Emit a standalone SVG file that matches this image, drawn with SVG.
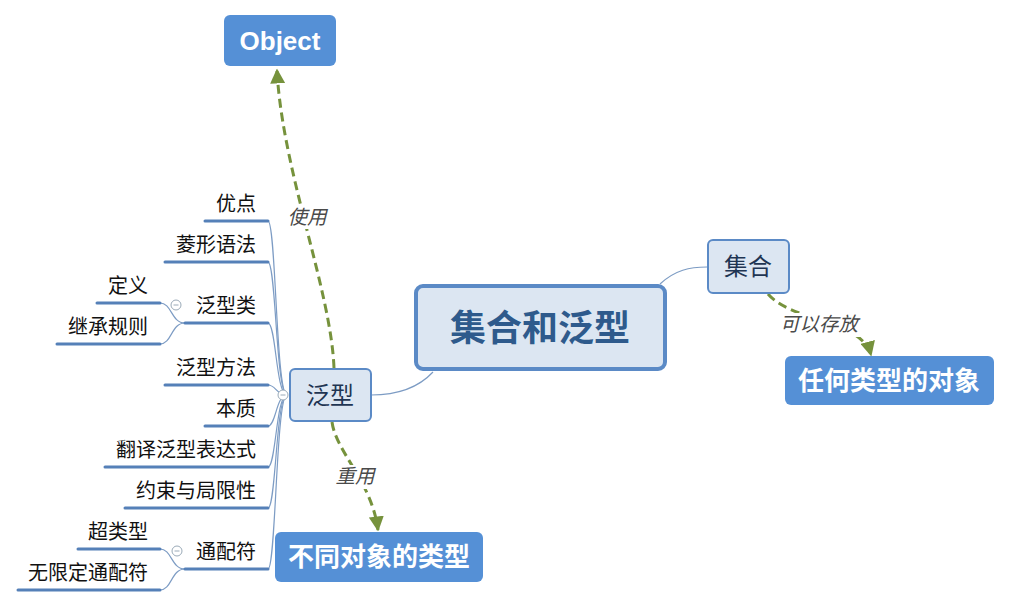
<svg xmlns="http://www.w3.org/2000/svg" width="1010" height="607" viewBox="0 0 1010 607">
<defs>
<style>
.leaf{font-family:"Noto Sans CJK SC","Liberation Sans",sans-serif;font-size:20px;fill:#111;text-anchor:end}
.ul{stroke:#5580b8;stroke-width:3;fill:none;stroke-linecap:round}
.br{stroke:#7d9cc4;stroke-width:1.2;fill:none}
.dash{stroke:#76923c;stroke-width:3;fill:none;stroke-dasharray:9,5}
.lbl{font-family:"Noto Sans CJK SC","Liberation Sans",sans-serif;font-size:19.5px;font-style:italic;fill:#4a4a4a;text-anchor:middle}
.sub{fill:#dce6f2;stroke:#5b8ac6;stroke-width:2}
.subt{font-family:"Noto Sans CJK SC","Liberation Sans",sans-serif;font-size:24px;fill:#1f3553;text-anchor:middle}
.flt{fill:#5590d6}
.fltt{font-family:"Noto Sans CJK SC","Liberation Sans",sans-serif;font-size:26px;font-weight:bold;fill:#fff;text-anchor:middle}
.col{fill:#fff;stroke:#9aaab8;stroke-width:1}
</style>
<marker id="arr" viewBox="0 0 10 10" refX="9" refY="5" markerWidth="5" markerHeight="5" orient="auto" markerUnits="strokeWidth">
<path d="M0,0 L10,5 L0,10 z" fill="#76923c"/>
</marker>
</defs>
<rect width="1010" height="607" fill="#fff"/>

<g id="connectors">
<path class="br" d="M371,395 C400,395 420,386 433,372"/>
<path class="br" d="M660,284 C675,270 690,267 707,267"/>
<path class="br" d="M287,395 C276,395 276,221 268,221"/>
<path class="br" d="M287,395 C276,395 276,262 268,262"/>
<path class="br" d="M287,395 C276,395 276,323 268,323"/>
<path class="br" d="M287,395 C276,395 276,385 268,385"/>
<path class="br" d="M287,395 C276,395 276,426 268,426"/>
<path class="br" d="M287,395 C276,395 276,467 268,467"/>
<path class="br" d="M287,395 C276,395 276,508 268,508"/>
<path class="br" d="M287,395 C276,395 276,569 268,569"/>
<path class="br" d="M185,323 C171,323 172,303 160,303"/>
<path class="br" d="M185,323 C171,323 172,344 160,344"/>
<path class="br" d="M185,569 C171,569 172,549 160,549"/>
<path class="br" d="M185,569 C171,569 172,590 160,590"/>
<path class="dash" d="M334,368 C331,290 282,170 277,70" marker-end="url(#arr)"/>
<path class="dash" d="M332,422 C336,452 372,482 378,530" marker-end="url(#arr)"/>
<path class="dash" d="M768,294 C792,322 862,320 871,355" marker-end="url(#arr)"/>
<rect x="285" y="205" width="44" height="24" fill="#fff"/>
<text class="lbl" x="307" y="224">使用</text>
<rect x="333" y="465" width="44" height="24" fill="#fff"/>
<text class="lbl" x="355" y="483">重用</text>
<rect x="777" y="313" width="84" height="24" fill="#fff"/>
<text class="lbl" x="819" y="331">可以存放</text>
</g>

<g id="central">
<rect x="416" y="286" width="249" height="83" rx="7" fill="#dce6f2" stroke="#5b8ac6" stroke-width="4"/>
<text x="540" y="341" font-family="'Noto Sans CJK SC','Liberation Sans',sans-serif" font-size="36" font-weight="bold" fill="#2e5a8c" text-anchor="middle">集合和泛型</text>
</g>

<g id="fanxing">
<rect class="sub" x="290" y="369" width="81" height="52" rx="5"/>
<text class="subt" x="330" y="404">泛型</text>
<circle class="col" cx="283" cy="395" r="5"/><path d="M280.5,395 h5" stroke="#9aaab8" stroke-width="1"/>
</g>

<g id="jihe">
<rect class="sub" x="708" y="240" width="81" height="53" rx="5"/>
<text class="subt" x="748" y="275">集合</text>
</g>

<g id="object">
<rect class="flt" x="224" y="15" width="112" height="51" rx="6"/>
<text x="280" y="50" font-family="'Liberation Sans',sans-serif" font-size="26" font-weight="bold" fill="#fff" text-anchor="middle">Object</text>
</g>

<g id="renhe">
<rect class="flt" x="785" y="356" width="209" height="49" rx="6"/>
<text class="fltt" x="889" y="390">任何类型的对象</text>
</g>

<g id="butong">
<rect class="flt" x="275" y="532" width="208" height="50" rx="6"/>
<text class="fltt" x="379" y="566">不同对象的类型</text>
</g>

<g id="youdian"><text class="leaf" x="256" y="211">优点</text><path class="ul" d="M205,221 H268"/></g>
<g id="lingxing"><text class="leaf" x="256" y="252">菱形语法</text><path class="ul" d="M165,262 H268"/></g>
<g id="fanxinglei"><text class="leaf" x="256" y="313">泛型类</text><path class="ul" d="M185,323 H268"/>
<circle class="col" cx="176" cy="305" r="5"/><path d="M173.5,305 h5" stroke="#9aaab8" stroke-width="1"/></g>
<g id="dingyi"><text class="leaf" x="148" y="293">定义</text><path class="ul" d="M97,303 H160"/></g>
<g id="jicheng"><text class="leaf" x="148" y="334">继承规则</text><path class="ul" d="M57,344 H160"/></g>
<g id="fangfa"><text class="leaf" x="256" y="375">泛型方法</text><path class="ul" d="M165,385 H268"/></g>
<g id="benzhi"><text class="leaf" x="256" y="416">本质</text><path class="ul" d="M205,426 H268"/></g>
<g id="fanyi"><text class="leaf" x="256" y="457">翻译泛型表达式</text><path class="ul" d="M105,467 H268"/></g>
<g id="yueshu"><text class="leaf" x="256" y="498">约束与局限性</text><path class="ul" d="M125,508 H268"/></g>
<g id="tongpeifu"><text class="leaf" x="256" y="559">通配符</text><path class="ul" d="M185,569 H268"/>
<circle class="col" cx="177" cy="551" r="5"/><path d="M174.5,551 h5" stroke="#9aaab8" stroke-width="1"/></g>
<g id="chaoleixing"><text class="leaf" x="148" y="539">超类型</text><path class="ul" d="M78,549 H160"/></g>
<g id="wuxianding"><text class="leaf" x="148" y="580">无限定通配符</text><path class="ul" d="M18,590 H160"/></g>
</svg>
